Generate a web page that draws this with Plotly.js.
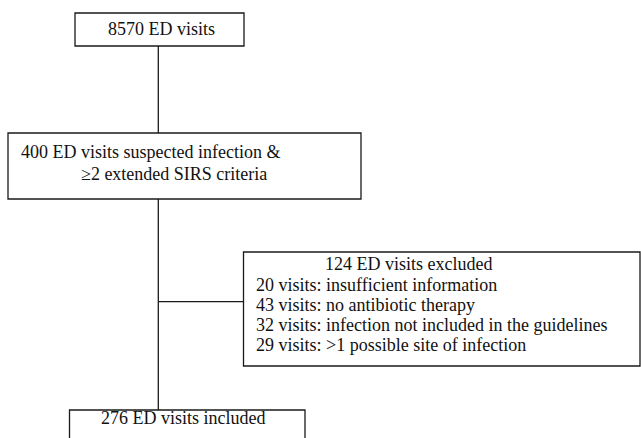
<!DOCTYPE html>
<html>
<head>
<meta charset="utf-8">
<script src="https://cdn.plot.ly/plotly-3.0.1.min.js"></script>
<style>html,body{margin:0;padding:0;background:#fff;}#chart{width:641px;height:438px;}
#chart text{font-family:'Liberation Serif','Times New Roman',serif !important;}</style>
</head>
<body>
<div id="chart"></div>
<script>
// ---- data ----
const totalVisits = 8570;
const screenedVisits = 400;
const excludedCounts = [20, 43, 32, 29];
const excludedReasons = [
  "insufficient information",
  "no antibiotic therapy",
  "infection not included in the guidelines",
  ">1 possible site of infection"
];
const includedVisits = 276;

// ---- layout geometry (pixel space, y downwards) ----
const B1 = {x0: 75, x1: 244, y0: 13, y1: 46};
const B2 = {x0: 8, x1: 361, y0: 133, y1: 199};
const B3 = {x0: 243.5, x1: 640, y0: 252, y1: 366};
const B4 = {x0: 69.5, x1: 305, y0: 410, y1: 450};
const spineX = 158.3;
const branchY = 301.7;

const lineCol = '#1a1a1a';
const serif = 'Times New Roman';

function box(b) {
  return {type: 'rect', xref: 'x', yref: 'y', x0: b.x0, x1: b.x1, y0: b.y0, y1: b.y1,
    line: {color: lineCol, width: 1.3}, fillcolor: 'rgba(0,0,0,0)'};
}
function seg(x0, y0, x1, y1) {
  return {type: 'line', xref: 'x', yref: 'y', x0, y0, x1, y1, line: {color: lineCol, width: 1.3}};
}
function txt(text, x, y, anchor) {
  return {text: "<span style=\"font-family:'Liberation Serif'\">" + text + "</span>",
    x, y, xref: 'x', yref: 'y', xanchor: anchor || 'left', yanchor: 'middle',
    showarrow: false, font: {family: serif, size: 18, color: '#111'}, align: 'left'};
}

const shapes = [
  box(B1), box(B2), box(B3), box(B4),
  seg(spineX, B1.y1, spineX, B2.y0),
  seg(spineX, B2.y1, spineX, B4.y0),
  seg(spineX, branchY, B3.x0, branchY)
];

const excludedTotal = excludedCounts.reduce((a, b) => a + b, 0);
const annotations = [
  txt(totalVisits + ' ED visits', 161.5, 29, 'center'),
  txt(screenedVisits + ' ED visits suspected infection &amp;', 19, 152),
  txt('\u22652 extended SIRS criteria', 79, 174),
  txt(excludedTotal + ' ED visits excluded', 323, 264),
];
excludedCounts.forEach((c, i) => {
  annotations.push(txt(c + ' visits: ' + excludedReasons[i].replace('>', '&gt;'), 254, 284.7 + 20 * i));
});
annotations.push(txt(includedVisits + ' ED visits included', 99, 418));

const layout = {
  width: 641, height: 438,
  margin: {l: 0, r: 0, t: 0, b: 0},
  font: {family: serif, size: 18, color: '#111'},
  paper_bgcolor: '#fff', plot_bgcolor: '#fff',
  showlegend: false,
  xaxis: {range: [0, 641], visible: false, fixedrange: true},
  yaxis: {range: [438, 0], visible: false, fixedrange: true},
  shapes, annotations
};

Plotly.newPlot('chart', [{x: [], y: [], type: 'scatter', hoverinfo: 'skip'}], layout, {staticPlot: true, displayModeBar: false});
</script>
</body>
</html>
